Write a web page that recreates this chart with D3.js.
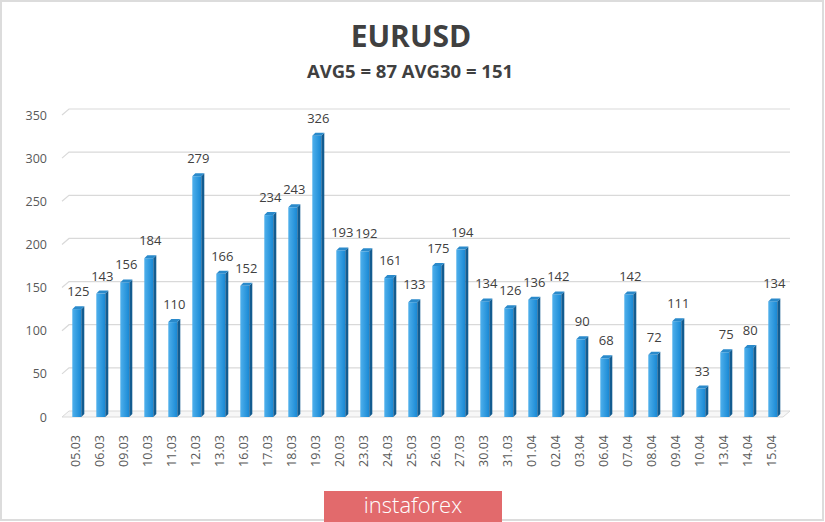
<!DOCTYPE html>
<html>
<head>
<meta charset="utf-8">
<script src="https://cdn.jsdelivr.net/npm/d3@7"></script>
<style>
  html, body { margin: 0; padding: 0; background: #fff; }
  svg { display: block; }
</style>
</head>
<body>
<svg id="chart" width="825" height="522"></svg>
<script>
const dates = ["05.03","06.03","09.03","10.03","11.03","12.03","13.03","16.03","17.03","18.03",
  "19.03","20.03","23.03","24.03","25.03","26.03","27.03","30.03","31.03","01.04",
  "02.04","03.04","06.04","07.04","08.04","09.04","10.04","13.04","14.04","15.04"];
const values = [125,143,156,184,110,279,166,152,234,243,326,193,192,161,133,175,194,134,126,136,
  142,90,68,142,72,111,33,75,80,134];
const yTicks = [0,50,100,150,200,250,300,350];
const title = "EURUSD";
const subtitle = "AVG5 = 87 AVG30 = 151";

const svg = d3.select("#chart");
const W = 825, H = 522;
const depthX = 7, depthY = -6;      // back wall offset
const barDx = 3, barDy = -3;        // bar side depth

// frame
svg.append("rect").attr("x", 1).attr("y", 1).attr("width", W - 3).attr("height", H - 3)
  .attr("fill", "#fff").attr("stroke", "#dcdcdc").attr("stroke-width", 2);

const x = d3.scalePoint().domain(dates).range([78.3, 774.3]);
const y = d3.scaleLinear().domain([0, 350]).range([417, 115]);

const defs = svg.append("defs");
const grad = defs.append("linearGradient").attr("id", "barGrad")
  .attr("x1", "0").attr("x2", "1").attr("y1", "0").attr("y2", "0");
grad.append("stop").attr("offset", "0%").attr("stop-color", "#4fb0ec");
grad.append("stop").attr("offset", "100%").attr("stop-color", "#1888d4");

// floor
const xL = 62, xR = 783;
svg.append("path")
  .attr("d", `M${xL},${y(0)} L${xR},${y(0)} L${xR + depthX},${y(0) + depthY} L${xL + depthX},${y(0) + depthY} Z`)
  .attr("fill", "#f7f7f7").attr("stroke", "#d9d9d9");

// gridlines (back wall)
const grid = svg.append("g");
yTicks.filter(t => t > 0).forEach(t => {
  grid.append("path")
    .attr("d", `M${xL},${y(t)} L${xL + depthX},${y(t) + depthY} L${xR + depthX},${y(t) + depthY}`)
    .attr("fill", "none").attr("stroke", "#d9d9d9").attr("stroke-width", 1.2);
});

// y labels
svg.append("g").selectAll("text").data(yTicks).join("text")
  .attr("x", 47).attr("y", d => y(d) + 4.5)
  .attr("text-anchor", "end")
  .attr("font-family", "'Open Sans', sans-serif").attr("font-size", 12.5)
  .attr("fill", "#595959").text(d => d);

// bars
const fw = 9;
const bars = svg.append("g").selectAll("g").data(values.map((v, i) => ({ d: dates[i], v })))
  .join("g");
bars.append("rect")
  .attr("x", d => x(d.d) - 6).attr("y", d => y(d.v))
  .attr("width", fw).attr("height", d => y(0) - y(d.v))
  .attr("fill", "url(#barGrad)");
bars.append("path")
  .attr("d", d => {
    const x0 = x(d.d) - 6 + fw;
    return `M${x0},${y(d.v)} L${x0 + barDx},${y(d.v) + barDy} L${x0 + barDx},${y(0) + barDy} L${x0},${y(0)} Z`;
  })
  .attr("fill", "#135c90");
bars.append("path")
  .attr("d", d => {
    const x0 = x(d.d) - 6;
    return `M${x0},${y(d.v)} L${x0 + fw},${y(d.v)} L${x0 + fw + barDx},${y(d.v) + barDy} L${x0 + barDx},${y(d.v) + barDy} Z`;
  })
  .attr("fill", "#2a8acb");

// value labels
bars.append("text")
  .attr("x", d => x(d.d)).attr("y", d => y(d.v) - 13)
  .attr("text-anchor", "middle")
  .attr("font-family", "'Open Sans', sans-serif").attr("font-size", 13)
  .attr("fill", "#404040").text(d => d.v);

// x labels
svg.append("g").selectAll("text").data(dates).join("text")
  .attr("transform", d => `translate(${x(d) + 1.8},435) rotate(-90)`)
  .attr("text-anchor", "end")
  .attr("font-family", "'Open Sans', sans-serif").attr("font-size", 12.5)
  .attr("fill", "#595959").text(d => d);

// titles
svg.append("text").attr("x", 411).attr("y", 47).attr("text-anchor", "middle")
  .attr("font-family", "'Open Sans', sans-serif").attr("font-weight", "bold")
  .attr("font-size", 30).attr("fill", "#404040").text(title);
svg.append("text").attr("x", 410).attr("y", 78).attr("text-anchor", "middle")
  .attr("font-family", "'Open Sans', sans-serif").attr("font-weight", "bold")
  .attr("font-size", 18.5).attr("fill", "#404040").text(subtitle);

// logo
svg.append("rect").attr("x", 324).attr("y", 491).attr("width", 178).attr("height", 31)
  .attr("fill", "#e26a6c");
svg.append("text").attr("x", 413).attr("y", 513).attr("text-anchor", "middle")
  .attr("font-family", "'Open Sans', sans-serif").attr("font-weight", 300)
  .attr("font-size", 22).attr("fill", "#fff").text("instaforex");
</script>
</body>
</html>
